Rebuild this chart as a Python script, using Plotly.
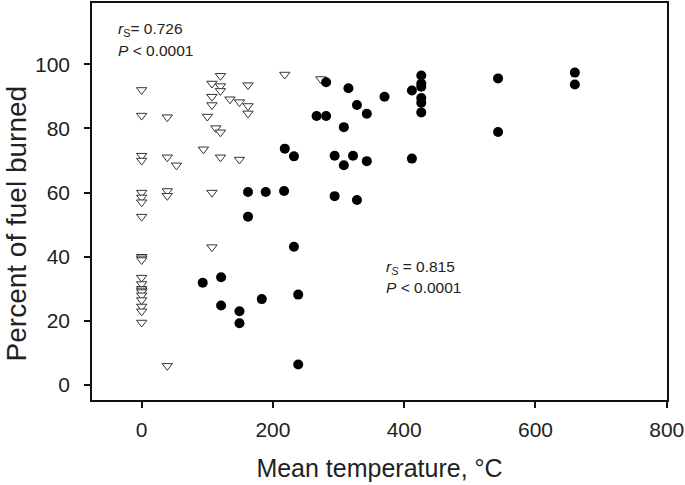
import plotly.graph_objects as go

# Open triangles (unburned / lower-temperature series)
tri_x = [0, 0, 0, 0, 0, 0, 0, 0, 0, 0, 0, 0, 0, 0, 0, 0, 0, 0, 0, 0, 0,
         39, 39, 39, 39, 39,
         53, 94, 100,
         107, 107, 107, 107, 107,
         113,
         120, 120, 120, 120, 120,
         134.5, 149, 149,
         162, 162, 162,
         218, 273]
tri_y = [92, 84, 71.5, 70, 60, 58.5, 57, 52.5, 40, 39.5, 39, 33.5, 31.5, 30, 29.5, 29, 28, 26.5, 24.5, 23, 19.5,
         83.5, 71, 60.5, 59, 6,
         68.5, 73.5, 83.7,
         94, 89.9, 87.3, 60, 43,
         80.1,
         96.4, 93.2, 91.7, 78.8, 71,
         89.1, 88.2, 70.3,
         93.5, 87, 84.7,
         96.8, 95.4]

# Filled circles
cir_x = [281, 315, 370, 411.7, 426, 426, 426, 426, 426, 426,
         328, 343, 266.5, 281, 308,
         218, 232, 294, 322, 308, 343, 411.7,
         189, 217, 162, 294, 328, 162,
         543, 543, 660, 660,
         232, 93, 121, 121, 149, 149, 183, 238.5, 238.5]
cir_y = [94.4, 92.5, 89.9, 91.8, 96.5, 94, 93, 89.5, 88, 85,
         87.3, 84.6, 83.9, 83.9, 80.4,
         73.7, 71.3, 71.5, 71.5, 68.5, 69.8, 70.6,
         60.2, 60.5, 60.2, 58.9, 57.7, 52.5,
         95.6, 78.9, 97.4, 93.7,
         43.1, 31.9, 33.6, 24.8, 23.0, 19.3, 26.8, 28.2, 6.4]

x_ticks = [0, 200, 400, 600, 800]
y_ticks = [0, 20, 40, 60, 80, 100]

FONT = "Arial, Liberation Sans, Helvetica, sans-serif"
TXT = "#222222"

fig = go.Figure()
fig.add_trace(go.Scatter(
    x=tri_x, y=tri_y, mode="markers",
    marker=dict(symbol="triangle-down", size=9, color="white",
                line=dict(color="#333333", width=1)),
    showlegend=False, hoverinfo="x+y"))
fig.add_trace(go.Scatter(
    x=cir_x, y=cir_y, mode="markers",
    marker=dict(symbol="circle", size=10, color="#000000",
                line=dict(color="#000000", width=0)),
    showlegend=False, hoverinfo="x+y"))

axis_common = dict(
    showgrid=False, zeroline=False, showline=True, linecolor="#111111",
    linewidth=1.5, mirror=True, ticks="outside", ticklen=6, tickwidth=1.5,
    tickcolor="#111111", tickfont=dict(family=FONT, size=21, color=TXT),
)

ANN = 15.5
fig.update_layout(
    width=685, height=485,
    margin=dict(l=92, r=18, t=1, b=85),
    paper_bgcolor="white", plot_bgcolor="white",
    xaxis=dict(range=[-75.7, 800.4], tickvals=x_ticks,
               ticktext=[str(v) for v in x_ticks],
               ticklabelstandoff=4,
               title=dict(text="Mean temperature, °C", standoff=20,
                          font=dict(family=FONT, size=25, color=TXT)),
               **axis_common),
    yaxis=dict(range=[-4.65, 119.1], tickvals=y_ticks,
               ticktext=[str(v) for v in y_ticks],
               ticklabelstandoff=10,
               **axis_common),
    annotations=[
        dict(text="Percent of fuel burned", textangle=-90, xref="paper", yref="paper",
             x=-92 / 575, y=(485 - 217 - 85) / 399, xanchor="left", yanchor="middle",
             xshift=0, yshift=-6, showarrow=False, borderpad=0,
             font=dict(family=FONT, size=28, color=TXT)),
        dict(text="<i>r</i><sub>S</sub>= 0.726", xref="paper", yref="paper",
             x=(116 - 92) / 575, y=(485 - 28 - 85) / 399, xanchor="left", yanchor="middle",
             showarrow=False, font=dict(family=FONT, size=ANN, color=TXT)),
        dict(text="<i>P</i> < 0.0001", xref="paper", yref="paper",
             x=(116 - 92) / 575, y=(485 - 49 - 85) / 399, xanchor="left", yanchor="middle",
             showarrow=False, font=dict(family=FONT, size=ANN, color=TXT)),
        dict(text="<i>r<sub>S</sub></i> = 0.815", xref="paper", yref="paper",
             x=(384 - 92) / 575, y=(485 - 267 - 85) / 399, xanchor="left", yanchor="middle",
             showarrow=False, font=dict(family=FONT, size=ANN, color=TXT)),
        dict(text="<i>P</i> < 0.0001", xref="paper", yref="paper",
             x=(384 - 92) / 575, y=(485 - 287 - 85) / 399, xanchor="left", yanchor="middle",
             showarrow=False, font=dict(family=FONT, size=ANN, color=TXT)),
    ],
)

fig.write_html("out.html", config={"displayModeBar": False},
               post_script="document.body.style.margin='0';document.body.style.overflow='hidden';")
